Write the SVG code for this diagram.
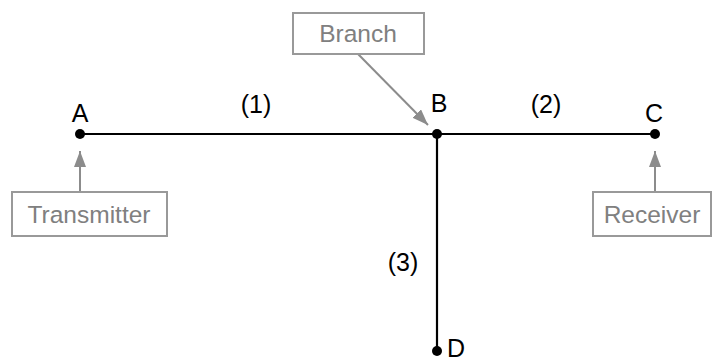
<svg xmlns="http://www.w3.org/2000/svg" width="713" height="358" viewBox="0 0 713 358">
<defs>
<style>
.lbl{font-family:"Liberation Sans",Arial,sans-serif;font-size:25px;fill:#000}
.box rect{fill:#fff;stroke:#999;stroke-width:2}
.box text{font-family:"Liberation Sans",Arial,sans-serif;font-size:24.5px;fill:#808080;text-anchor:middle}
.wire{stroke:#000;stroke-width:2.2;fill:none}
.ptr{stroke:#8c8c8c;stroke-width:2;fill:none}
</style>
<marker id="ah" viewBox="0 0 16 12" refX="16" refY="6" markerWidth="16" markerHeight="12" markerUnits="userSpaceOnUse" orient="auto">
<path d="M0,0 L16,6 L0,12 z" fill="#8c8c8c"/>
</marker>
</defs>
<rect width="713" height="358" fill="#fff"/>
<g id="connectors">
<line class="wire" x1="80" y1="134" x2="655" y2="134"/>
<line class="wire" x1="437" y1="134" x2="437" y2="351"/>
<line class="ptr" x1="80" y1="192" x2="80" y2="151" style="marker-end:url(#ah)"/>
<line class="ptr" x1="655" y1="192" x2="655" y2="151" style="marker-end:url(#ah)"/>
<line class="ptr" x1="358" y1="54" x2="428" y2="125" style="marker-end:url(#ah)"/>
</g>
<g id="A"><circle cx="80" cy="134" r="5"/><text class="lbl" x="80" y="122" text-anchor="middle">A</text></g>
<g id="B"><circle cx="437" cy="134" r="5"/><text class="lbl" x="439" y="112" text-anchor="middle">B</text></g>
<g id="C"><circle cx="655" cy="134" r="5"/><text class="lbl" x="654" y="122" text-anchor="middle">C</text></g>
<g id="D"><circle cx="437" cy="351" r="5"/><text class="lbl" x="447" y="357">D</text></g>
<g id="seg1"><text class="lbl" x="256" y="113" text-anchor="middle">(1)</text></g>
<g id="seg2"><text class="lbl" x="546" y="113" text-anchor="middle">(2)</text></g>
<g id="seg3"><text class="lbl" x="403" y="271" text-anchor="middle">(3)</text></g>
<g id="transmitter" class="box"><rect x="12" y="192" width="155" height="44"/><text x="89" y="223">Transmitter</text></g>
<g id="receiver" class="box"><rect x="593" y="192" width="118" height="44"/><text x="652" y="223">Receiver</text></g>
<g id="branch" class="box"><rect x="293" y="13" width="131" height="41"/><text x="358" y="42">Branch</text></g>
</svg>
